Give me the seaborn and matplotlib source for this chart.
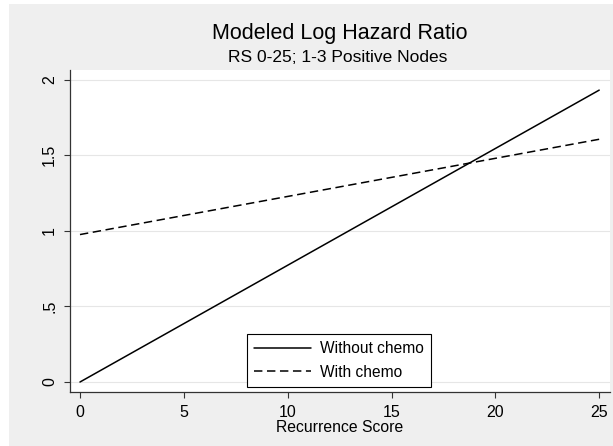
import numpy as np
import pandas as pd
import matplotlib
matplotlib.use("Agg")
import matplotlib.pyplot as plt
from matplotlib.patches import Rectangle
import seaborn as sns

# Modeled log hazard ratio at the ends of the RS 0-25 range
recurrence_score = [0, 25]
without_chemo = [0.0, 1.93]
with_chemo = [0.975, 1.605]
series_names = ["Without chemo", "With chemo"]
x_ticks = [0, 5, 10, 15, 20, 25]
y_ticks = [0, 0.5, 1, 1.5, 2]
y_tick_labels = ["0", ".5", "1", "1.5", "2"]

df = pd.DataFrame({
    "Recurrence Score": recurrence_score * 2,
    "Log HR": without_chemo + with_chemo,
    "series": [series_names[0]] * len(recurrence_score) + [series_names[1]] * len(recurrence_score),
})

sns.set_style("white")
plt.rcParams["font.family"] = ["Liberation Sans", "DejaVu Sans"]
plt.rcParams["text.color"] = "black"
plt.rcParams["axes.labelcolor"] = "black"
plt.rcParams["xtick.color"] = "black"
plt.rcParams["ytick.color"] = "black"

W, H = 613, 446
fig = plt.figure(figsize=(W / 100, H / 100), dpi=100, facecolor="white")

# light gray graph region behind the plot
fig.patches.append(Rectangle((9 / W, 0), 1 - 9 / W, (H - 4) / H,
                             transform=fig.transFigure, facecolor="#efefef",
                             edgecolor="none", zorder=-10))

left, right, top, bottom = 70, 610, 70, 391.7
ax = fig.add_axes([left / W, 1 - bottom / H, (right - left) / W, (bottom - top) / H])
ax.set_zorder(1)
ax.set_facecolor("white")

sns.lineplot(data=df, x="Recurrence Score", y="Log HR", style="series",
             style_order=series_names,
             dashes={series_names[0]: "", series_names[1]: (5.5, 3)},
             color="black", linewidth=1.1, ax=ax)

ax.set_xlim(-0.48, 25.52)
ax.set_ylim(-0.064, 2.063)
ax.set_xticks(x_ticks)
ax.set_xticklabels([str(t) for t in x_ticks])
ax.set_yticks(y_ticks)
ax.set_yticklabels(y_tick_labels, rotation=90, va="center")

for y in y_ticks:
    ax.axhline(y, color="#e6e6e6", linewidth=0.8, zorder=0)

for s in ["top", "right"]:
    ax.spines[s].set_visible(False)
for s in ["left", "bottom"]:
    ax.spines[s].set_color("#333333")
    ax.spines[s].set_linewidth(0.9)

ax.tick_params(axis="both", direction="out", length=4.3, width=0.8,
               color="#333333", labelsize=11.5, pad=5, left=True, bottom=True)
ax.set_xlabel("Recurrence Score", fontsize=11.3, labelpad=0)
ax.set_ylabel("")

fig.text(340 / W, 1 - 33 / H, "Modeled Log Hazard Ratio", ha="center", va="center", fontsize=15.5)
fig.text(338 / W, 1 - 58 / H, "RS 0-25; 1-3 Positive Nodes", ha="center", va="center", fontsize=12.5)

leg = ax.legend(title=None, loc="lower center", bbox_to_anchor=(0.498, 0.0155),
                fontsize=11.2, handlelength=3.7, handletextpad=0.6,
                labelspacing=0.55, borderpad=0.45, borderaxespad=0,
                frameon=True, fancybox=False, shadow=False)
leg.get_frame().set_edgecolor("black")
leg.get_frame().set_linewidth(0.8)
leg.get_frame().set_facecolor("white")
leg.get_frame().set_alpha(1)

fig.savefig("out.png", dpi=100)
